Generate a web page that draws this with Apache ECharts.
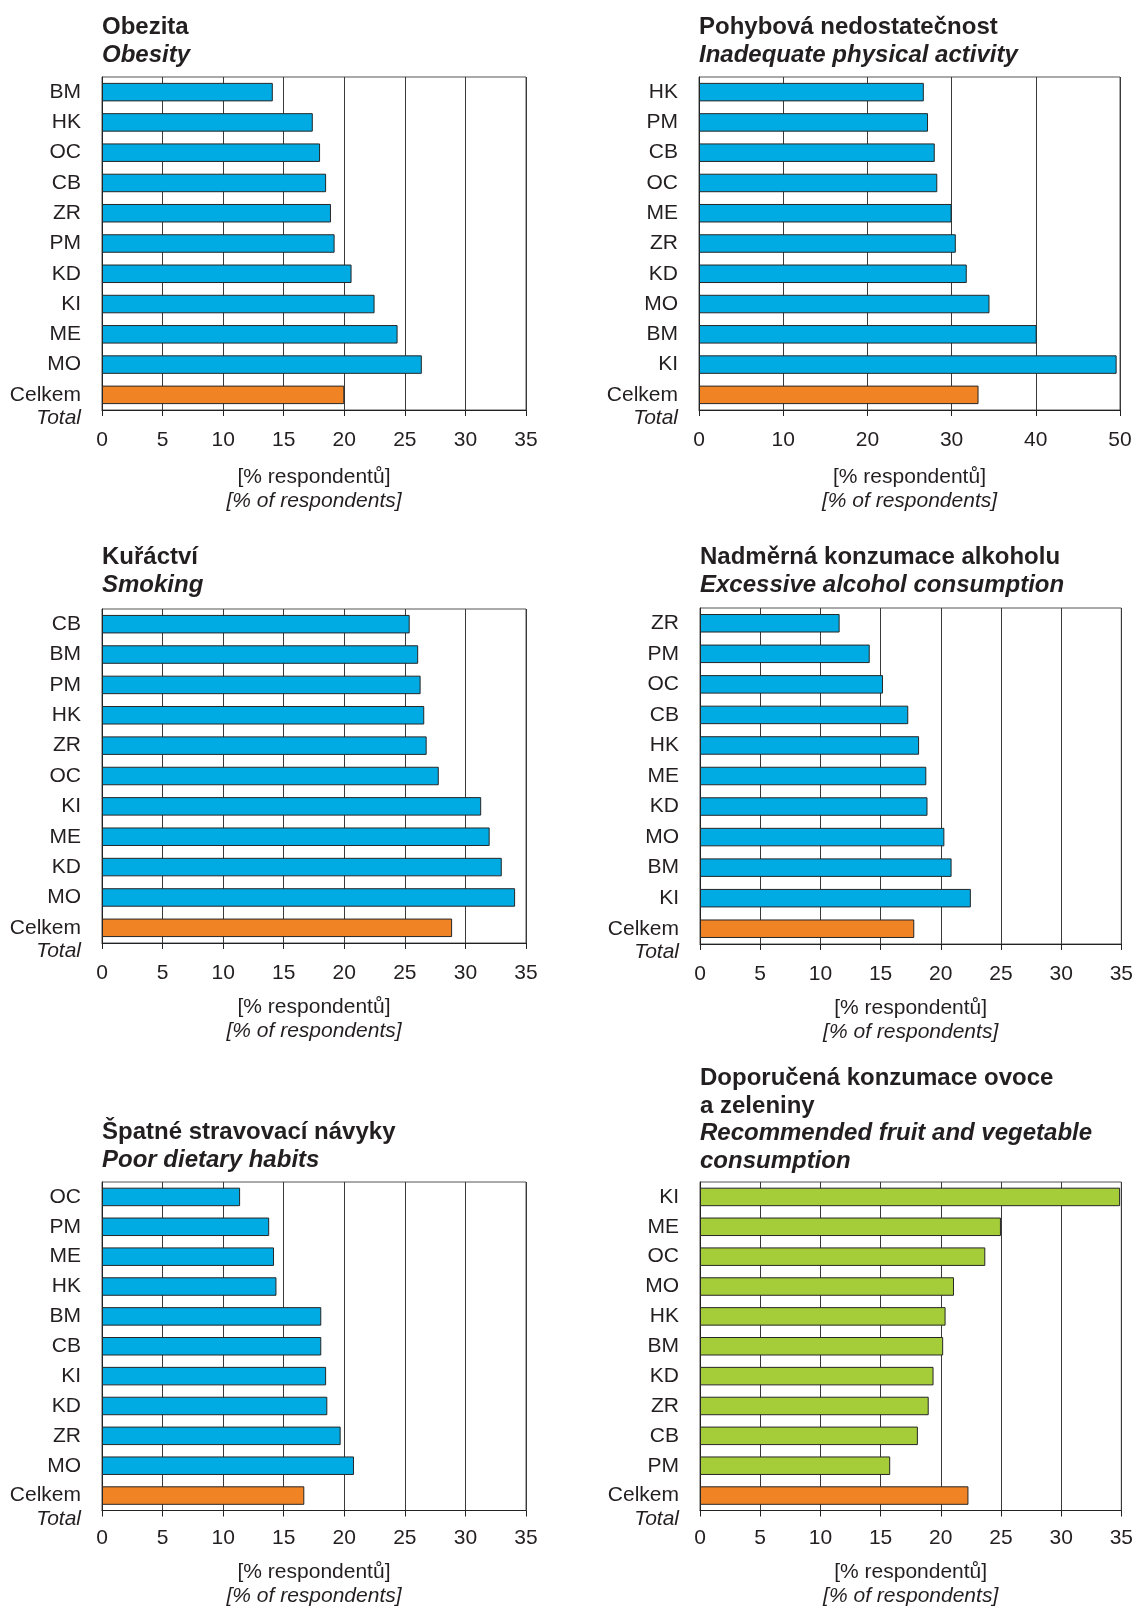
<!DOCTYPE html>
<html>
<head>
<meta charset="utf-8">
<title>Rizikové faktory – Risk factors</title>
<script src="https://cdn.jsdelivr.net/npm/echarts@6/dist/echarts.min.js"></script>
<style>
  html, body { margin: 0; padding: 0; background: #fff; }
  #chart { width: 1136px; height: 1608px; }
</style>
</head>
<body>
<div id="chart"></div>
<script>
// Regions (top to bottom) and shares of respondents [%] for each indicator
const obesityRegions = ['BM', 'HK', 'OC', 'CB', 'ZR', 'PM', 'KD', 'KI', 'ME', 'MO'];
const obesityValues  = [14.1, 17.4, 18.0, 18.5, 18.9, 19.2, 20.6, 22.5, 24.4, 26.4];
const obesityTotal   = 20.0;

const activityRegions = ['HK', 'PM', 'CB', 'OC', 'ME', 'ZR', 'KD', 'MO', 'BM', 'KI'];
const activityValues  = [26.7, 27.2, 28.0, 28.3, 30.0, 30.5, 31.8, 34.5, 40.1, 49.6];
const activityTotal   = 33.2;

const smokingRegions = ['CB', 'BM', 'PM', 'HK', 'ZR', 'OC', 'KI', 'ME', 'KD', 'MO'];
const smokingValues  = [25.4, 26.1, 26.3, 26.6, 26.8, 27.8, 31.3, 32.0, 33.0, 34.1];
const smokingTotal   = 28.9;

const alcoholRegions = ['ZR', 'PM', 'OC', 'CB', 'HK', 'ME', 'KD', 'MO', 'BM', 'KI'];
const alcoholValues  = [11.6, 14.1, 15.2, 17.3, 18.2, 18.8, 18.9, 20.3, 20.9, 22.5];
const alcoholTotal   = 17.8;

const dietRegions = ['OC', 'PM', 'ME', 'HK', 'BM', 'CB', 'KI', 'KD', 'ZR', 'MO'];
const dietValues  = [11.4, 13.8, 14.2, 14.4, 18.1, 18.1, 18.5, 18.6, 19.7, 20.8];
const dietTotal   = 16.7;

const fruitRegions = ['KI', 'ME', 'OC', 'MO', 'HK', 'BM', 'KD', 'ZR', 'CB', 'PM'];
const fruitValues  = [34.9, 25.0, 23.7, 21.1, 20.4, 20.2, 19.4, 19.0, 18.1, 15.8];
const fruitTotal   = 22.3;

// Titles: Czech (bold) and English (bold italic) lines
const obesityTitle  = [['Obezita'], ['Obesity']];
const activityTitle = [['Pohybová nedostatečnost'], ['Inadequate physical activity']];
const smokingTitle  = [['Kuřáctví'], ['Smoking']];
const alcoholTitle  = [['Nadměrná konzumace alkoholu'], ['Excessive alcohol consumption']];
const dietTitle     = [['Špatné stravovací návyky'], ['Poor dietary habits']];
const fruitTitle    = [['Doporučená konzumace ovoce', 'a zeleniny'], ['Recommended fruit and vegetable', 'consumption']];

// Axis tick labels
const ticks35 = [0, 5, 10, 15, 20, 25, 30, 35];
const ticks50 = [0, 10, 20, 30, 40, 50];

const totalLabel = 'Celkem';
const totalLabelEn = 'Total';
const axisNameCz = '[% respondentů]';
const axisNameEn = '[% of respondents]';

const FONT = '"Liberation Sans", Arial, Helvetica, sans-serif';
const TEXT = '#231f20';
const BLUE = '#00abe4';
const GREEN = '#a5cd3a';
const ORANGE = '#f08424';
const FS = 21;

const panels = [
  { regions: obesityRegions,  values: obesityValues,  total: obesityTotal,  title: obesityTitle,  ticks: ticks35, color: BLUE,
    grid: { left: 102, top: 77,   width: 424, height: 333 }, titlePos: { left: 102, top: 14 },   labelMargin: 19.5, nameGap: 55 },
  { regions: activityRegions, values: activityValues, total: activityTotal, title: activityTitle, ticks: ticks50, color: BLUE,
    grid: { left: 699, top: 77,   width: 421, height: 333 }, titlePos: { left: 699, top: 14 },   labelMargin: 19.5, nameGap: 55 },
  { regions: smokingRegions,  values: smokingValues,  total: smokingTotal,  title: smokingTitle,  ticks: ticks35, color: BLUE,
    grid: { left: 102, top: 609,  width: 424, height: 334 }, titlePos: { left: 102, top: 544 },  labelMargin: 19.5, nameGap: 52.5 },
  { regions: alcoholRegions,  values: alcoholValues,  total: alcoholTotal,  title: alcoholTitle,  ticks: ticks35, color: BLUE,
    grid: { left: 700, top: 608,  width: 424, height: 336 }, titlePos: { left: 700, top: 544 },  labelMargin: 19.5, nameGap: 52.5 },
  { regions: dietRegions,     values: dietValues,     total: dietTotal,     title: dietTitle,     ticks: ticks35, color: BLUE,
    grid: { left: 102, top: 1182, width: 424, height: 336 }, titlePos: { left: 102, top: 1119 }, labelMargin: 17, nameGap: 50 },
  { regions: fruitRegions,    values: fruitValues,    total: fruitTotal,    title: fruitTitle,    ticks: ticks35, color: GREEN,
    grid: { left: 700, top: 1182, width: 424, height: 336 }, titlePos: { left: 700, top: 1065 }, labelMargin: 17, nameGap: 50 }
];

const grids = [], xAxes = [], yAxes = [], series = [], titles = [];

panels.forEach((p, i) => {
  const categories = p.regions.concat([totalLabel]);
  const data = p.values.map(v => ({ value: v }))
    .concat([{ value: p.total, itemStyle: { color: ORANGE } }]);
  const tMin = p.ticks[0];
  const tMax = p.ticks[p.ticks.length - 1];
  const tStep = p.ticks[1] - p.ticks[0];

  grids.push(Object.assign({
    show: true, borderColor: '#555', borderWidth: 1, backgroundColor: 'transparent'
  }, p.grid));

  xAxes.push({
    gridIndex: i, type: 'value', min: tMin, max: tMax, interval: tStep,
    axisLine: { show: true, onZero: false, lineStyle: { color: '#222', width: 1 } },
    axisTick: { show: true, length: 6, lineStyle: { color: '#222' } },
    axisLabel: { fontFamily: FONT, fontSize: FS, color: TEXT, margin: p.labelMargin },
    splitLine: { show: true, lineStyle: { color: '#3a3a3a', width: 1 } },
    name: '{a|' + axisNameCz + '}\n{b|' + axisNameEn + '}',
    nameLocation: 'middle', nameGap: p.nameGap,
    nameTextStyle: {
      rich: {
        a: { fontFamily: FONT, fontSize: FS, color: TEXT, lineHeight: 24 },
        b: { fontFamily: FONT, fontSize: FS, color: TEXT, fontStyle: 'italic', lineHeight: 24 }
      }
    }
  });

  yAxes.push({
    gridIndex: i, type: 'category', data: categories, inverse: true,
    axisLine: { show: true, lineStyle: { color: '#222', width: 1 } },
    axisTick: { show: false },
    splitLine: { show: false },
    axisLabel: {
      fontFamily: FONT, fontSize: FS, color: TEXT, margin: 21, interval: 0,
      // the overall row carries an English second line beneath it
      formatter: v => v === totalLabel
        ? '{sp| }\n{a|' + totalLabel + '}\n{b|' + totalLabelEn + '}'
        : v,
      rich: {
        sp: { fontFamily: FONT, fontSize: FS, lineHeight: 23.5 },
        a: { fontFamily: FONT, fontSize: FS, color: TEXT, lineHeight: 23.5 },
        b: { fontFamily: FONT, fontSize: FS, color: TEXT, fontStyle: 'italic', lineHeight: 23.5 }
      }
    }
  });

  series.push({
    type: 'bar', xAxisIndex: i, yAxisIndex: i, data: data, barWidth: 18.5,
    itemStyle: { color: p.color, borderColor: '#262626', borderWidth: 1 },
    silent: true, animation: false
  });

  const cz = p.title[0].map(s => '{a|' + s + '}');
  const en = p.title[1].map(s => '{b|' + s + '}');
  titles.push({
    text: cz.concat(en).join('\n'),
    left: p.titlePos.left, top: p.titlePos.top, padding: 0,
    textStyle: {
      rich: {
        a: { fontFamily: FONT, fontSize: 24, fontWeight: 'bold', color: TEXT, lineHeight: 27.5 },
        b: { fontFamily: FONT, fontSize: 24, fontWeight: 'bold', fontStyle: 'italic', color: TEXT, lineHeight: 27.5 }
      }
    }
  });
});

const chart = echarts.init(document.getElementById('chart'), null, { renderer: 'canvas' });
chart.setOption({
  backgroundColor: '#ffffff',
  animation: false,
  title: titles,
  grid: grids,
  xAxis: xAxes,
  yAxis: yAxes,
  series: series
});
</script>
</body>
</html>
